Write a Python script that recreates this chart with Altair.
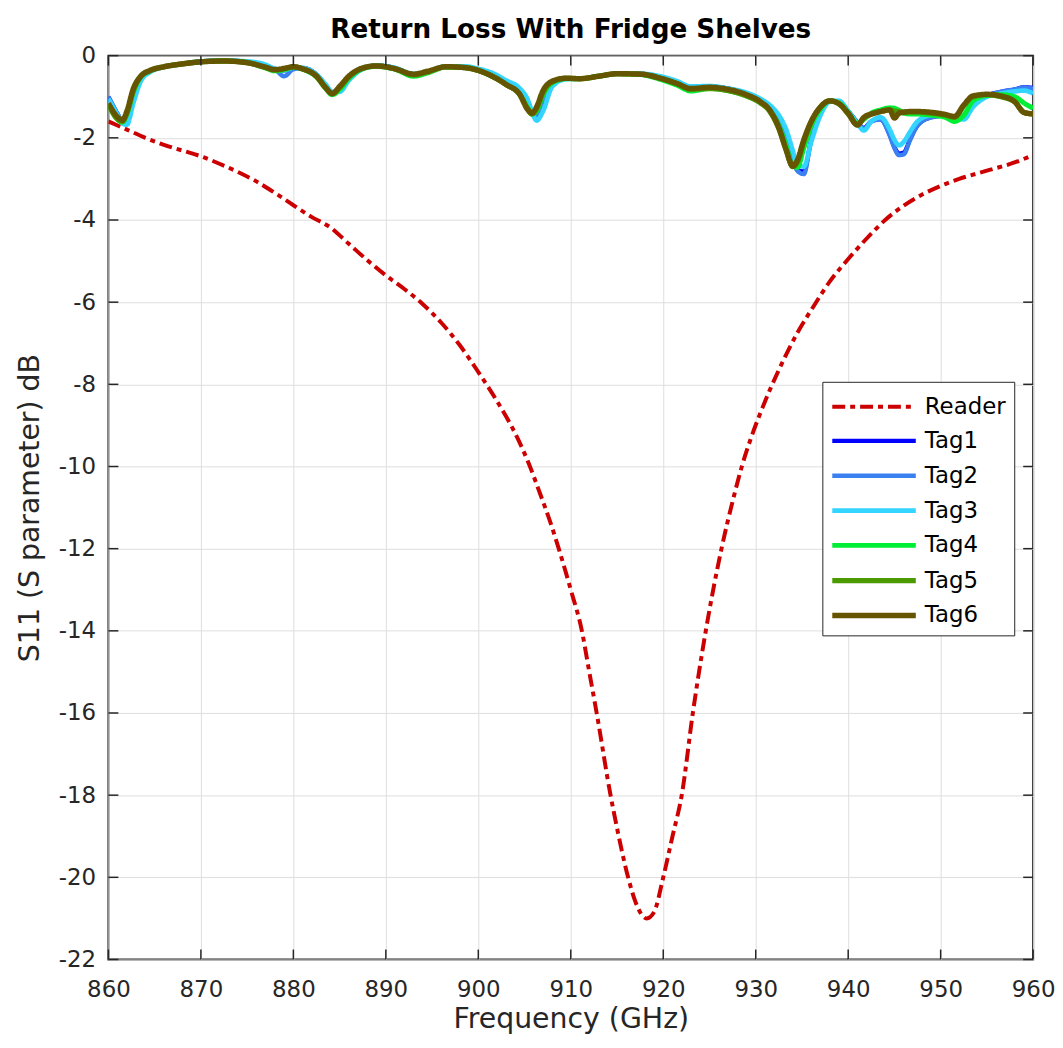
import altair as alt
import pandas as pd

# ---------------- data ----------------
reader_freq = [860, 862, 864, 866, 868, 870, 872, 874, 876, 878, 880, 882, 884, 886, 888, 890,
               892, 894, 896, 898, 900, 902, 904, 905.5, 906.5, 908, 908.7, 910, 911.2, 912,
               912.8, 914.3, 915, 916.2, 917, 918.2, 919, 920, 921, 922, 923.2, 924.6, 926.3,
               927.5, 928.5, 929.5, 930.5, 931.5, 932.5, 934.5, 936.4, 938, 940, 942, 944, 946,
               948, 950, 952, 955, 958, 960]
reader_db = [-1.6, -1.8, -2.0, -2.17, -2.31, -2.45, -2.63, -2.83, -3.06, -3.34, -3.64, -3.93,
             -4.18, -4.58, -4.98, -5.35, -5.68, -6.05, -6.5, -7.05, -7.7, -8.4, -9.2, -9.95,
             -10.55, -11.5, -12.0, -13.0, -14.0, -15.0, -16.0, -18.0, -18.8, -20.0, -20.6, -21.0,
             -20.85, -20.0, -19.0, -18.0, -16.0, -14.0, -12.0, -10.85, -10.0, -9.3, -8.7, -8.15,
             -7.65, -6.75, -6.05, -5.5, -4.95, -4.45, -4.0, -3.65, -3.38, -3.17, -3.0, -2.8,
             -2.6, -2.42]

tag_freq = [860, 861, 861.5, 862, 862.7, 863.5, 864.5, 866, 868, 870, 872.5, 875, 877, 878, 879,
            880, 881, 882.5, 883.5, 884.2, 885, 886, 887.5, 889, 891, 893, 894.5, 896.5, 898.5,
            900, 901.5, 903, 904.5, 905.3, 905.8, 906.3, 907, 908, 909.5, 911, 913, 915, 917.5,
            920, 921.5, 923, 925, 927, 929, 930.5, 931.5, 932.5, 933.3, 934, 934.5, 935.2, 936,
            937, 938, 939, 940, 941, 941.7, 942.5, 943.5, 944.5, 945, 945.5, 946, 946.7, 947.5,
            949, 950.5, 951.5, 952.5, 953.5, 955, 956.5, 958, 959, 960]

tag1_db = [-1.0, -1.42, -1.6, -1.58, -1.05, -0.58, -0.38, -0.27, -0.2, -0.14, -0.12, -0.15, -0.25,
           -0.32, -0.36, -0.31, -0.3, -0.46, -0.72, -0.9, -0.85, -0.58, -0.31, -0.24, -0.3, -0.45,
           -0.4, -0.26, -0.27, -0.33, -0.45, -0.65, -0.85, -1.15, -1.42, -1.5, -1.15, -0.7, -0.56,
           -0.56, -0.5, -0.44, -0.44, -0.54, -0.65, -0.78, -0.75, -0.8, -0.92, -1.07, -1.25,
           -1.55, -1.95, -2.45, -2.78, -2.82, -2.05, -1.4, -1.1, -1.12, -1.35, -1.62, -1.76,
           -1.6, -1.55, -1.93, -2.22, -2.38, -2.36, -2.03, -1.7, -1.5, -1.46, -1.5, -1.45, -1.15,
           -0.97, -0.88, -0.82, -0.77, -0.78]
tag2_db = [-1.0, -1.42, -1.6, -1.58, -1.05, -0.58, -0.38, -0.27, -0.2, -0.14, -0.12, -0.15, -0.25,
           -0.33, -0.5, -0.33, -0.3, -0.46, -0.72, -0.9, -0.85, -0.58, -0.31, -0.24, -0.3, -0.45,
           -0.4, -0.26, -0.27, -0.33, -0.45, -0.65, -0.85, -1.15, -1.42, -1.5, -1.15, -0.7, -0.56,
           -0.56, -0.5, -0.44, -0.44, -0.54, -0.65, -0.78, -0.75, -0.8, -0.92, -1.07, -1.25,
           -1.55, -1.95, -2.45, -2.8, -2.88, -2.05, -1.4, -1.1, -1.12, -1.35, -1.62, -1.78,
           -1.6, -1.55, -1.95, -2.25, -2.42, -2.4, -2.05, -1.7, -1.5, -1.46, -1.5, -1.45, -1.15,
           -0.97, -0.88, -0.82, -0.78, -0.8]
tag3_db = [-1.05, -1.45, -1.65, -1.68, -1.15, -0.62, -0.4, -0.28, -0.2, -0.14, -0.12, -0.14, -0.22,
           -0.32, -0.35, -0.29, -0.3, -0.46, -0.7, -0.88, -0.88, -0.6, -0.32, -0.24, -0.3, -0.44,
           -0.4, -0.26, -0.26, -0.32, -0.42, -0.6, -0.8, -1.05, -1.35, -1.58, -1.35, -0.75, -0.57,
           -0.56, -0.5, -0.44, -0.44, -0.52, -0.62, -0.75, -0.74, -0.8, -0.9, -1.05, -1.2, -1.45,
           -1.8, -2.3, -2.65, -2.7, -2.1, -1.45, -1.12, -1.1, -1.35, -1.65, -1.82, -1.6, -1.5,
           -1.8, -2.05, -2.18, -2.1, -1.85, -1.6, -1.45, -1.45, -1.52, -1.55, -1.25, -1.0, -0.92,
           -0.87, -0.85, -0.92]
tag4_db = [-1.2, -1.55, -1.62, -1.42, -0.88, -0.52, -0.37, -0.27, -0.2, -0.15, -0.13, -0.17, -0.3,
           -0.37, -0.34, -0.28, -0.33, -0.52, -0.8, -0.95, -0.82, -0.55, -0.32, -0.26, -0.33, -0.5,
           -0.42, -0.28, -0.29, -0.36, -0.5, -0.7, -0.95, -1.25, -1.42, -1.35, -0.95, -0.66, -0.56,
           -0.56, -0.5, -0.44, -0.46, -0.6, -0.72, -0.86, -0.8, -0.85, -0.98, -1.14, -1.32, -1.7,
           -2.2, -2.68, -2.72, -2.25, -1.7, -1.3, -1.1, -1.15, -1.38, -1.65, -1.55, -1.4, -1.32,
           -1.27, -1.28, -1.33, -1.4, -1.42, -1.42, -1.45, -1.5, -1.6, -1.45, -1.1, -0.97, -0.95,
           -1.0, -1.15, -1.28]
tag5_db = [-1.18, -1.55, -1.6, -1.4, -0.85, -0.5, -0.36, -0.27, -0.2, -0.15, -0.13, -0.17, -0.29,
           -0.35, -0.32, -0.27, -0.32, -0.5, -0.78, -0.93, -0.78, -0.52, -0.3, -0.25, -0.32, -0.47,
           -0.4, -0.27, -0.29, -0.36, -0.5, -0.7, -0.95, -1.28, -1.42, -1.3, -0.9, -0.64, -0.55,
           -0.56, -0.5, -0.44, -0.45, -0.57, -0.68, -0.82, -0.8, -0.85, -0.98, -1.15, -1.35,
           -1.78, -2.3, -2.7, -2.6, -2.1, -1.62, -1.25, -1.1, -1.17, -1.42, -1.68, -1.52, -1.42,
           -1.36, -1.32, -1.35, -1.36, -1.37, -1.37, -1.37, -1.4, -1.45, -1.5, -1.22, -1.0, -0.95,
           -1.0, -1.12, -1.38, -1.42]
tag6_db = [-1.16, -1.5, -1.57, -1.35, -0.8, -0.5, -0.36, -0.27, -0.2, -0.15, -0.13, -0.17, -0.28,
           -0.34, -0.31, -0.27, -0.32, -0.5, -0.78, -0.92, -0.75, -0.5, -0.3, -0.25, -0.32, -0.45,
           -0.38, -0.27, -0.29, -0.36, -0.5, -0.7, -0.95, -1.3, -1.4, -1.25, -0.85, -0.62, -0.55,
           -0.56, -0.5, -0.44, -0.45, -0.57, -0.68, -0.8, -0.77, -0.82, -0.95, -1.12, -1.32, -1.75,
           -2.3, -2.69, -2.55, -2.05, -1.6, -1.25, -1.1, -1.17, -1.4, -1.69, -1.5, -1.42, -1.36,
           -1.32, -1.52, -1.4, -1.38, -1.36, -1.36, -1.38, -1.43, -1.48, -1.2, -0.98, -0.94, -0.98,
           -1.12, -1.38, -1.42]

series_names = ["Reader", "Tag1", "Tag2", "Tag3", "Tag4", "Tag5", "Tag6"]
series_colors = ["#CC0000", "#0000FF", "#3A80F0", "#33D4FF", "#00EE33", "#4A9A00", "#665500"]
series_widths = [4, 5.5, 5.5, 5.5, 5.5, 5.5, 5.5]

x_ticks = [860, 870, 880, 890, 900, 910, 920, 930, 940, 950, 960]
y_ticks = [0, -2, -4, -6, -8, -10, -12, -14, -16, -18, -20, -22]

# ---------------- frame ----------------
rows = []
for f, v in zip(reader_freq, reader_db):
    rows.append({"series": "Reader", "freq": f, "db": v})
for name, vals in zip(series_names[1:], [tag1_db, tag2_db, tag3_db, tag4_db, tag5_db, tag6_db]):
    for f, v in zip(tag_freq, vals):
        rows.append({"series": name, "freq": f, "db": v})
df = pd.DataFrame(rows)

W, H = 930, 909
FONT = "DejaVu Sans"
TXT = "#262626"
xscale = alt.Scale(domain=[860, 960], nice=False, zero=False)
yscale = alt.Scale(domain=[-22, 0], nice=False, zero=False)

x_axis = alt.Axis(values=x_ticks, grid=True, gridColor="#DEDEDE", gridWidth=1,
                  ticks=False, tickSize=0, domain=False, labelPadding=19, titlePadding=3,
                  labelFlush=False)
y_axis = alt.Axis(values=y_ticks, grid=True, gridColor="#DEDEDE", gridWidth=1,
                  ticks=False, tickSize=0, domain=False, labelPadding=13, titlePadding=14,
                  labelFlush=False,
                  labelExpr="datum.value == 0 ? '0' : '-' + abs(datum.value)")

def X(field):
    return alt.X(field, type="quantitative", scale=xscale, title="Frequency (GHz)", axis=x_axis)

def Y(field):
    return alt.Y(field, type="quantitative", scale=yscale, title="S11 (S parameter) dB", axis=y_axis)

lines = alt.Chart(df).mark_line(interpolate="monotone", clip=True).encode(
    x=X("freq"),
    y=Y("db"),
    color=alt.Color("series:N", scale=alt.Scale(domain=series_names, range=series_colors),
                    title=None, sort=series_names),
    strokeDash=alt.StrokeDash("series:N", scale=alt.Scale(domain=series_names,
                              range=[[13, 5, 5, 5]] + [[1, 0]] * 6), title=None, sort=series_names),
    strokeWidth=alt.StrokeWidth("series:N", scale=alt.Scale(domain=series_names, range=series_widths),
                                title=None, sort=series_names),
)

tdf_x = pd.DataFrame({"freq": x_ticks})
tdf_y = pd.DataFrame({"db": y_ticks})
TL = 10
bottom_ticks = alt.Chart(tdf_x).mark_rule(color=TXT, strokeWidth=1.5).encode(
    x=X("freq"), y=alt.value(H), y2=alt.value(H - TL))
top_ticks = alt.Chart(tdf_x).mark_rule(color=TXT, strokeWidth=1.5).encode(
    x=X("freq"), y=alt.value(0), y2=alt.value(TL))
left_ticks = alt.Chart(tdf_y).mark_rule(color=TXT, strokeWidth=1.5).encode(
    y=Y("db"), x=alt.value(0), x2=alt.value(TL))
right_ticks = alt.Chart(tdf_y).mark_rule(color=TXT, strokeWidth=1.5).encode(
    y=Y("db"), x=alt.value(W), x2=alt.value(W - TL))

chart = alt.layer(lines, bottom_ticks, top_ticks, left_ticks, right_ticks).properties(
    width=W, height=H,
    title=alt.TitleParams("Return Loss With Fridge Shelves", font=FONT, fontSize=26.4,
                          fontWeight="bold", color="#000000", offset=1),
    padding={"left": 7, "top": 6, "right": 0, "bottom": 0},
).configure_view(stroke=TXT, strokeWidth=2).configure_axis(
    labelFont=FONT, labelFontSize=23, labelColor=TXT,
    titleFont=FONT, titleFontSize=28.5, titleColor=TXT, titleFontWeight="normal",
).configure_legend(
    orient="none", legendX=718, legendY=328, fillColor="#FFFFFF", strokeColor="#262626",
    padding=8, labelFont=FONT, labelFontSize=23, labelColor="#000000",
    symbolType="M-2.8,0L2.8,0", symbolSize=900, symbolStrokeWidth=5, symbolOffset=26,
    rowPadding=5, labelOffset=33, cornerRadius=0,
)

chart.save("out.html", embed_options={"renderer": "svg", "actions": False})
